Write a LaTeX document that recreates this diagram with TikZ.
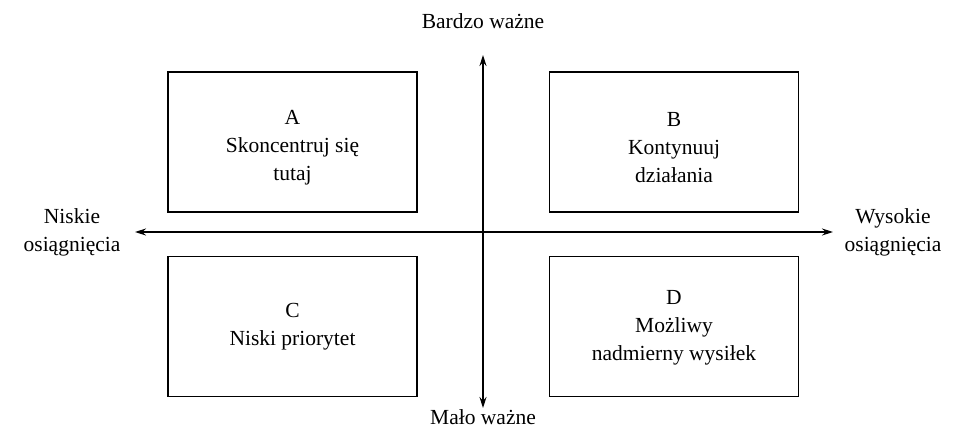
\documentclass[tikz,border=0pt]{standalone}
\usepackage{fontspec}
\setmainfont{Liberation Serif}
\usetikzlibrary{arrows.meta}
\begin{document}
\begin{tikzpicture}[x=1pt,y=-1pt,
  quad/.style={draw, line width=1.2pt, minimum width=249pt, minimum height=140pt,
    inner sep=0pt},
  boxtext/.style={align=center, inner sep=0pt, font=\fontsize{21.5}{28}\selectfont},
  axislabel/.style={align=center, inner sep=0pt, font=\fontsize{21.5}{28}\selectfont},
  axis/.style={line width=1.3pt, {Stealth[length=11pt,width=7pt]}-{Stealth[length=11pt,width=7pt]}}]
  \useasboundingbox (0,0) rectangle (954,431);
  % quadrants
  \node[quad] (A) at (292.5,142) {};
  \node[quad] (B) at (674,142) {};
  \node[quad] (C) at (292.5,326.5) {};
  \node[quad] (D) at (674,326.5) {};
  \node[boxtext] (At) at ([yshift=-6pt]A.center) {A\\Skoncentruj się\\tutaj};
  \node[boxtext] (Bt) at ([yshift=-6pt]B.center) {B\\Kontynuuj\\działania};
  \node[boxtext] (Ct) at (C.center) {C\\Niski priorytet};
  \node[boxtext] (Dt) at ([yshift=-1pt]D.center) {D\\Możliwy\\nadmierny wysiłek};
  % axis ends
  \coordinate (left) at (135,232);
  \coordinate (right) at (833,232);
  \coordinate (top) at (483,55);
  \coordinate (bottom) at (483,408);
  \draw[axis] (left) -- (right);
  \draw[axis] (top) -- (bottom);
  % axis labels
  \node[axislabel] (hi) at (483,21) {Bardzo ważne};
  \node[axislabel] (lo) at (483,417) {Mało ważne};
  \node[axislabel] (low) at (72,232) {Niskie\\osiągnięcia};
  \node[axislabel] (high) at (893,232) {Wysokie\\osiągnięcia};
\end{tikzpicture}
\end{document}
